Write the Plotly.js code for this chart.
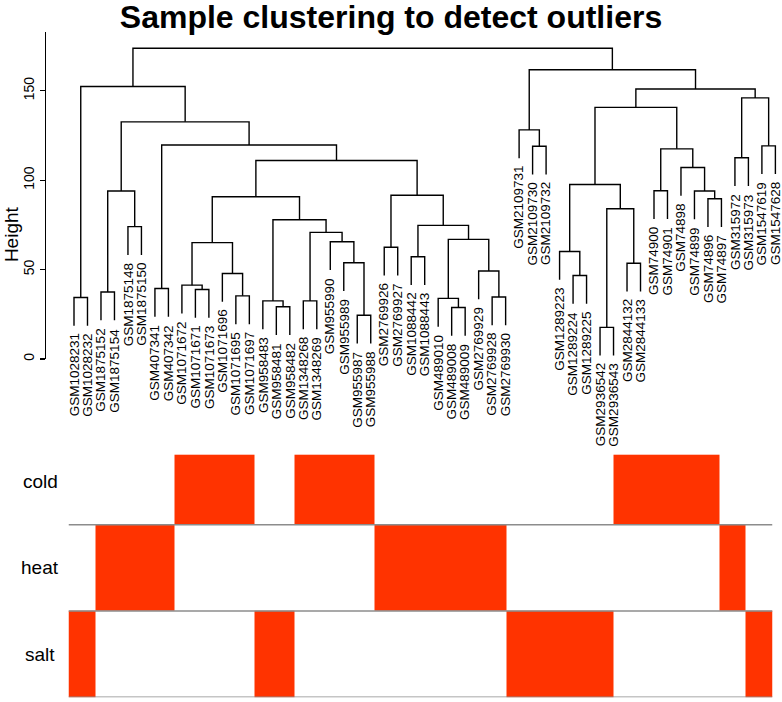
<!DOCTYPE html>
<html><head><meta charset="utf-8">
<script src="https://cdn.plot.ly/plotly-3.0.1.min.js"></script>
<style>html,body{margin:0;padding:0;background:#fff}</style>
</head><body><div id="chart" style="width:782px;height:702px"></div>
<script>
// leaf labels in dendrogram order
const sampleLabels = ['GSM1028231','GSM1028232','GSM1875152','GSM1875154','GSM1875148','GSM1875150',
 'GSM407341','GSM407342','GSM1071672','GSM1071671','GSM1071673','GSM1071696','GSM1071695','GSM1071697',
 'GSM958483','GSM958481','GSM958482','GSM1348268','GSM1348269','GSM955990','GSM955989','GSM955987',
 'GSM955988','GSM2769926','GSM2769927','GSM1088442','GSM1088443','GSM489010','GSM489008','GSM489009',
 'GSM2769929','GSM2769928','GSM2769930','GSM2109731','GSM2109730','GSM2109732','GSM1289223','GSM1289224',
 'GSM1289225','GSM2936542','GSM2936543','GSM2844132','GSM2844133','GSM74900','GSM74901','GSM74898',
 'GSM74899','GSM74896','GSM74897','GSM315972','GSM315973','GSM1547619','GSM1547628'];
// stress condition of each sample (same order)
const sampleCondition = ['salt','salt','heat','heat','heat','heat','heat','heat','cold','cold','cold','cold','cold','cold',
 'salt','salt','salt','cold','cold','cold','cold','cold','cold','heat','heat','heat','heat','heat','heat','heat',
 'heat','heat','heat','salt','salt','salt','salt','salt','salt','salt','salt','cold','cold','cold','cold','cold',
 'cold','cold','cold','heat','heat','salt','salt'];
// trait rows, bottom to top
const traitNames = ['salt','heat','cold'];
// hclust-style merge table: negative = leaf number, positive = earlier merge row
const mergeLeft  = [-40,-22,-29,-16,-15,-18,-28,-1,-32,-13,-3,-10,-7,-9,-38,-12,-31,-42,-21,-26,-37,-24,14,-20,7,6,-5,20,5,1,-48,23,22,11,-47,-44,21,-46,32,-50,36,-35,-52,13,-34,34,37,40,47,8,45,50];
const mergeRight = [-41,-23,-30,-17,4,-19,3,-2,-33,-14,-4,-11,-8,12,-39,10,9,-43,2,-27,15,-25,16,19,17,24,-6,25,26,18,-49,29,28,27,31,-45,30,35,33,-51,38,-36,-53,39,42,44,41,43,48,46,49,51];
const mergeHeight = [17.7,24.5,28.8,29.2,32.5,32.5,33.9,34.4,34.7,35.3,37.5,38.9,39.4,41.3,46.7,47.8,49.2,53.5,53.8,57.2,
 60.1,62.5,65.1,65.6,66.9,70.8,74.0,74.7,77.9,84.0,89.6,90.7,91.6,93.9,93.9,94.1,97.6,107.1,111.0,112.5,
 117.5,119.0,119.2,119.7,128.1,132.6,140.7,146.0,151.0,152.4,161.7,173.8];
const heightTicks = [0,50,100,150];

const hang = 15.8;
const n = sampleLabels.length;
const nodeX = [];
const leafEnd = new Array(n + 1);
const lx = [], ly = [];
function childPos(c, h) {
  if (c < 0) { leafEnd[-c] = h - hang; return [-c, h - hang]; }
  return [nodeX[c - 1], mergeHeight[c - 1]];
}
for (let m = 0; m < mergeHeight.length; m++) {
  const h = mergeHeight[m];
  const [xa, ya] = childPos(mergeLeft[m], h);
  const [xb, yb] = childPos(mergeRight[m], h);
  nodeX[m] = (xa + xb) / 2;
  lx.push(xa, xa, xb, xb, null);
  ly.push(ya, h, h, yb, null);
}

const FONT = 'Liberation Sans, Arial, Helvetica, sans-serif';
const treeTrace = {
  type: 'scatter', mode: 'lines', x: lx, y: ly, xaxis: 'x', yaxis: 'y',
  line: {color: '#000', width: 1.4}, hoverinfo: 'skip', showlegend: false, connectgaps: false
};

// trait heatmap
const xEdges = [];
for (let i = 0; i <= n; i++) xEdges.push(i + 0.5);
const yEdges = [0, 1, 2, 2.811];
const z = traitNames.map(t => sampleCondition.map(c => c === t ? 1 : 0));
const heat = {
  type: 'heatmap', x: xEdges, y: yEdges, z: z, xaxis: 'x2', yaxis: 'y2',
  zmin: 0, zmax: 1, colorscale: [[0, '#ffffff'], [1, '#ff3300']], showscale: false, hoverinfo: 'skip'
};

const annotations = [];
for (let i = 1; i <= n; i++) {
  annotations.push({
    x: i, y: leafEnd[i], xref: 'x', yref: 'y', text: sampleLabels[i - 1], textangle: -90,
    xanchor: 'center', yanchor: 'top', yshift: -6, showarrow: false,
    font: {family: FONT, size: 13.5, color: '#000'}
  });
}
traitNames.forEach((t, r) => {
  annotations.push({
    x: -0.008, y: r + 0.5, xref: 'paper', yref: 'y2', text: t, showarrow: false,
    xanchor: 'center', yanchor: 'middle', font: {family: FONT, size: 19, color: '#000'}
  });
});
annotations.push({
  x: -0.046, y: 0.6667, xref: 'paper', yref: 'paper', text: 'Height', textangle: -90, showarrow: false,
  xanchor: 'center', yanchor: 'middle', font: {family: FONT, size: 19, color: '#000'}
});

const shapes = [0, 1, 2].map(v => ({
  type: 'line', xref: 'x2', yref: 'y2', x0: 0.5, x1: n + 0.5, y0: v, y1: v,
  line: {color: '#8c8c8c', width: 1.6}
}));

const layout = {
  width: 782, height: 702, margin: {l: 46, r: 0, t: 0, b: 0},
  paper_bgcolor: '#fff', plot_bgcolor: 'rgba(0,0,0,0)',
  font: {family: FONT, color: '#000'},
  title: {text: '<b>Sample clustering to detect outliers</b>', x: 0.5, xref: 'container',
          y: 1 - 17 / 702, yref: 'container', yanchor: 'middle', xanchor: 'center',
          font: {family: FONT, size: 32, color: '#000'}},
  showlegend: false,
  xaxis: {domain: [0, 1], range: [-1.076, 53.49], visible: false, fixedrange: true},
  yaxis: {domain: [0.4886, 0.9548], range: [0, 183], anchor: 'x', showline: true, linecolor: '#000', linewidth: 1.3,
          ticks: 'outside', ticklen: 5, tickwidth: 1.3, tickcolor: '#000', tickvals: heightTicks,
          ticktext: heightTicks.map(String), tickangle: -90, tickfont: {size: 14, color: '#000', family: FONT},
          showgrid: false, zeroline: false, fixedrange: true},
  xaxis2: {domain: [0.03057, 0.98709], range: [0.5, n + 0.5], anchor: 'y2', visible: false, fixedrange: true},
  yaxis2: {domain: [0.0067, 0.3755], range: [0, 3], anchor: 'x2', visible: false, fixedrange: true},
  annotations: annotations, shapes: shapes
};
Plotly.newPlot('chart', [heat, treeTrace], layout, {displayModeBar: false, staticPlot: true});
</script></body></html>
